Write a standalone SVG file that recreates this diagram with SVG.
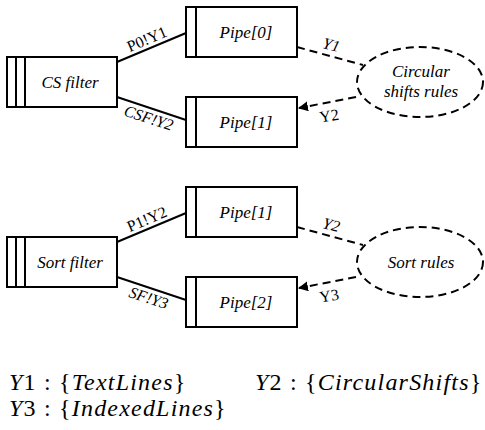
<svg xmlns="http://www.w3.org/2000/svg" width="485" height="430" viewBox="0 0 485 430" font-family="Liberation Serif">
  <style>
    text { font-family: 'Liberation Serif', 'DejaVu Serif', serif; fill: #000; }
    .box { fill: #fff; stroke: #000; stroke-width: 2; }
    .bar { stroke: #000; stroke-width: 2; }
    .link { stroke: #000; stroke-width: 2; fill: none; }
    .dash { stroke: #000; stroke-width: 2; fill: none; stroke-dasharray: 8 5; }
    .rule { fill: #fff; stroke: #000; stroke-width: 2; stroke-dasharray: 8 5; }
    .lbl { font-size: 17px; font-style: italic; text-anchor: middle; }
    .elbl { font-size: 16px; text-anchor: middle; }
    .it { font-style: italic; }
    .leg { font-size: 24px; letter-spacing: 1.2px; }
  </style>
  <defs>
    <marker id="head" viewBox="0 0 10 10" refX="9" refY="5" markerWidth="5" markerHeight="5" orient="auto" markerUnits="strokeWidth">
      <path d="M0,0 L10,5 L0,10 Z" fill="#000"/>
    </marker>
  </defs>

  <!-- connectors -->
  <g id="connectors">
    <line class="link" x1="117" y1="62" x2="186" y2="33"/>
    <line class="link" x1="117" y1="97" x2="186" y2="120"/>
    <line class="dash" x1="297" y1="47" x2="363" y2="65"/>
    <line class="dash" x1="356" y1="97" x2="299" y2="108" marker-end="url(#head)"/>

    <line class="link" x1="117" y1="242" x2="186" y2="213"/>
    <line class="link" x1="117" y1="277" x2="186" y2="300"/>
    <line class="dash" x1="297" y1="227" x2="363" y2="245"/>
    <line class="dash" x1="356" y1="277" x2="299" y2="288" marker-end="url(#head)"/>

    <text class="elbl" transform="translate(149,44) rotate(-23)">P0!Y1</text>
    <text class="elbl it" transform="translate(147,123) rotate(18)">CSF!Y2</text>
    <text class="elbl it" transform="translate(330,50) rotate(15)">Y1</text>
    <text class="elbl" transform="translate(330,121) rotate(-9)">Y2</text>

    <text class="elbl" transform="translate(149,224) rotate(-23)">P1!Y2</text>
    <text class="elbl it" transform="translate(147,303) rotate(18)">SF!Y3</text>
    <text class="elbl it" transform="translate(330,230) rotate(15)">Y2</text>
    <text class="elbl" transform="translate(330,301) rotate(-9)">Y3</text>
  </g>

  <!-- upper group: circular shift -->
  <g id="cs-filter">
    <rect class="box" x="7" y="57" width="110" height="50"/>
    <line class="bar" x1="16" y1="57" x2="16" y2="107"/>
    <line class="bar" x1="25" y1="57" x2="25" y2="107"/>
    <text class="lbl" x="70" y="88">CS filter</text>
  </g>
  <g id="pipe0">
    <rect class="box" x="186" y="7" width="111" height="50"/>
    <line class="bar" x1="196" y1="7" x2="196" y2="57"/>
    <text class="lbl" x="246" y="38">Pipe[0]</text>
  </g>
  <g id="pipe1-a">
    <rect class="box" x="186" y="97" width="111" height="50"/>
    <line class="bar" x1="196" y1="97" x2="196" y2="147"/>
    <text class="lbl" x="246" y="128">Pipe[1]</text>
  </g>
  <g id="cs-rules">
    <ellipse class="rule" cx="420" cy="82" rx="63" ry="35"/>
    <text class="lbl" x="421" y="77">Circular</text>
    <text class="lbl" x="421" y="97">shifts rules</text>
  </g>

  <!-- lower group: sort -->
  <g id="sort-filter">
    <rect class="box" x="7" y="237" width="110" height="50"/>
    <line class="bar" x1="16" y1="237" x2="16" y2="287"/>
    <line class="bar" x1="25" y1="237" x2="25" y2="287"/>
    <text class="lbl" x="70" y="268">Sort filter</text>
  </g>
  <g id="pipe1-b">
    <rect class="box" x="186" y="187" width="111" height="50"/>
    <line class="bar" x1="196" y1="187" x2="196" y2="237"/>
    <text class="lbl" x="246" y="218">Pipe[1]</text>
  </g>
  <g id="pipe2">
    <rect class="box" x="186" y="277" width="111" height="50"/>
    <line class="bar" x1="196" y1="277" x2="196" y2="327"/>
    <text class="lbl" x="246" y="308">Pipe[2]</text>
  </g>
  <g id="sort-rules">
    <ellipse class="rule" cx="420" cy="262" rx="63" ry="35"/>
    <text class="lbl" x="421" y="268">Sort rules</text>
  </g>

  <!-- type legend -->
  <g id="legend">
    <text class="leg" x="9" y="390"><tspan class="it">Y</tspan>1 : {<tspan class="it">TextLines</tspan>}</text>
    <text class="leg" x="255" y="390"><tspan class="it">Y</tspan>2 : {<tspan class="it">CircularShifts</tspan>}</text>
    <text class="leg" x="9" y="416"><tspan class="it">Y</tspan>3 : {<tspan class="it">IndexedLines</tspan>}</text>
  </g>
</svg>
